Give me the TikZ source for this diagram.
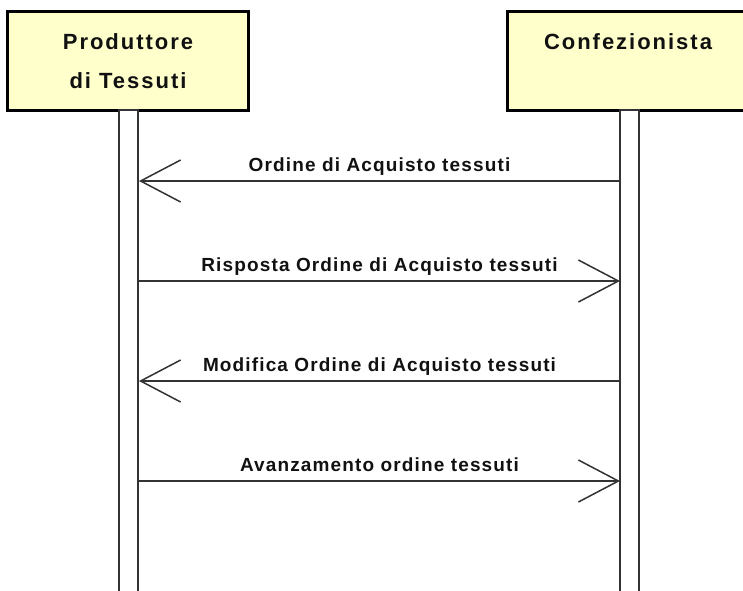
\documentclass[tikz,border=0pt]{standalone}
\usepackage{fontspec}
\setmainfont{Liberation Sans}
\newfontfamily\hdrfont{Liberation Sans}[LetterSpace=9]
\newfontfamily\msgfont{Liberation Sans}[LetterSpace=6]
\usetikzlibrary{arrows.meta}
\definecolor{actorfill}{HTML}{FFFFCC}
\definecolor{inkc}{HTML}{111111}
\definecolor{linec}{HTML}{333333}
\tikzset{
  actor/.style={draw=black, line width=3pt, fill=actorfill, minimum width=241pt, minimum height=99pt, inner sep=0pt},
  hdr/.style={font=\hdrfont\bfseries\fontsize{22pt}{39pt}\selectfont, text=inkc, align=center, inner sep=0pt},
  bar/.style={draw=linec, line width=2pt, fill=white},
  msg/.style={draw=linec, line width=1.5pt, -{Straight Barb[length=40pt, width=42pt, line width=1.5pt]}},
  msglabel/.style={font=\msgfont\bfseries\fontsize{19pt}{22pt}\selectfont, text=inkc, inner sep=0pt, anchor=base}
}
\begin{document}
\begin{tikzpicture}[x=1pt, y=-1pt]
\useasboundingbox (0,0) rectangle (743,590);
% actors
\node[actor] (prod) at (127.5,60.5) {};
\node[actor] (conf) at (627.5,60.5) {};
\node[hdr] (prodtxt) at (128,61.5) {Produttore\\di Tessuti};
\node[hdr] (conftxt) at (628,42) {Confezionista};
% lifelines (activation bars)
\draw[bar] (119,110) rectangle (138,600);
\draw[bar] (620,110) rectangle (639,600);
% lifeline attachment points
\coordinate (PA) at (139,181);
\coordinate (CA) at (620,181);
\coordinate (PB) at (139,281);
\coordinate (CB) at (620,281);
\coordinate (PC) at (139,381);
\coordinate (CC) at (620,381);
\coordinate (PD) at (139,481);
\coordinate (CD) at (620,481);
% messages
\draw[msg] (CA) -- (PA);
\draw[msg] (PB) -- (CB);
\draw[msg] (CC) -- (PC);
\draw[msg] (PD) -- (CD);
% labels
\node[msglabel] (la) at (379.5,171) {Ordine di Acquisto tessuti};
\node[msglabel] (lb) at (379.5,271) {Risposta Ordine di Acquisto tessuti};
\node[msglabel] (lc) at (379.5,371) {Modifica Ordine di Acquisto tessuti};
\node[msglabel] (ld) at (379.5,471) {Avanzamento ordine tessuti};
\end{tikzpicture}
\end{document}
